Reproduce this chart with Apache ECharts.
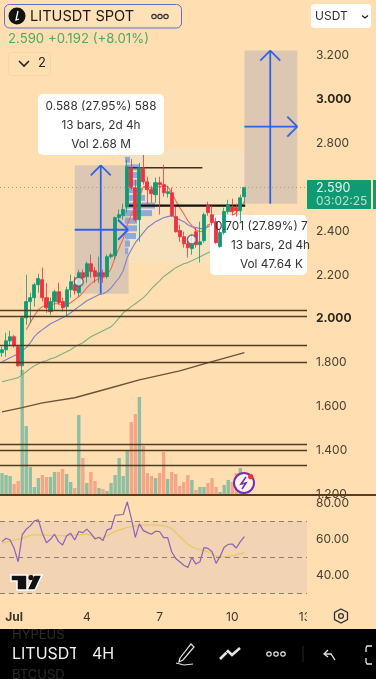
<!DOCTYPE html>
<html>
<head>
<meta charset="utf-8">
<title>LITUSDT SPOT</title>
<script src="https://cdn.jsdelivr.net/npm/echarts@6/dist/echarts.min.js"></script>
<style>
  html, body { margin: 0; padding: 0; background: #ffdfb2; }
  #chart { width: 376px; height: 679px; }
</style>
</head>
<body>
<div id="chart"></div>
<script>
const tickLabels = { 3: 'Jul', 21: '4', 39: '7', 57: '10', 75: '13' }
const categories = Array.from({ length: 76 }, (_, i) => tickLabels[i] || '')

const opens = [1.836,1.849,1.890,1.909,1.863,1.776,1.995,2.069,2.087,2.146,2.169,2.087,2.023,2.069,2.114,2.069,2.046,2.123,2.146,2.110,2.201,2.183,2.242,2.210,2.183,2.201,2.183,2.274,2.279,2.452,2.461,2.502,2.680,2.589,2.443,2.680,2.616,2.580,2.557,2.612,2.603,2.562,2.566,2.457,2.393,2.365,2.333,2.311,2.388,2.329,2.347,2.507,2.466,2.434,2.320,2.384,2.480,2.502,2.498,2.484,2.548]
const closes = [1.849,1.890,1.909,1.868,1.776,1.995,2.069,2.087,2.146,2.174,2.087,2.041,2.069,2.114,2.064,2.041,2.123,2.160,2.119,2.201,2.178,2.242,2.206,2.183,2.201,2.183,2.274,2.283,2.452,2.466,2.489,2.685,2.589,2.443,2.680,2.616,2.580,2.562,2.612,2.603,2.566,2.571,2.461,2.388,2.365,2.333,2.315,2.329,2.329,2.342,2.466,2.475,2.429,2.338,2.384,2.480,2.511,2.480,2.484,2.543,2.590]
const lows = [1.817,1.817,1.872,1.859,1.772,1.735,1.964,1.973,2.046,2.110,2.069,2.018,2.009,2.032,2.055,2.023,2.000,2.087,2.101,2.091,2.164,2.155,2.178,2.155,2.155,2.155,2.174,2.265,2.260,2.434,2.443,2.475,2.580,2.434,2.342,2.603,2.511,2.521,2.521,2.466,2.548,2.543,2.457,2.384,2.342,2.315,2.270,2.283,2.315,2.247,2.338,2.461,2.416,2.333,2.315,2.375,2.470,2.461,2.457,2.434,2.516]
const highs = [1.863,1.927,1.936,1.918,1.872,2.000,2.192,2.110,2.155,2.196,2.224,2.155,2.087,2.123,2.155,2.087,2.137,2.192,2.183,2.215,2.215,2.251,2.283,2.228,2.274,2.215,2.283,2.292,2.457,2.489,2.516,2.717,2.720,2.625,2.703,2.763,2.639,2.598,2.635,2.639,2.694,2.598,2.589,2.502,2.420,2.388,2.361,2.375,2.407,2.434,2.475,2.525,2.507,2.452,2.397,2.498,2.534,2.539,2.516,2.557,2.594]

const volumes = [22,20,19,11,14,125,69,28,8,17,20,18,18,23,23,26,21,13,7,80,37,12,23,14,7,6,4,12,20,37,19,45,73,81,98,49,22,19,17,22,43,16,23,21,9,13,20,15,5,8,8,12,17,8,3,10,15,13,22,27,15]

const maFast = [null,null,null,null,null,null,1.941,1.973,2.005,2.032,2.046,2.055,2.055,2.059,2.059,2.050,2.055,2.064,2.078,2.091,2.110,2.132,2.151,2.164,2.174,2.178,2.192,2.219,2.270,2.315,2.356,2.420,2.466,2.498,2.543,2.594,2.594,2.585,2.589,2.594,2.598,2.594,2.566,2.530,2.498,2.470,2.438,2.416,2.397,2.388,2.393,2.420,2.425,2.411,2.407,2.420,2.447,2.461,2.475,2.498,2.525]
const maMid = [1.795,1.804,1.813,1.822,1.831,1.845,1.859,1.881,1.909,1.927,1.941,1.954,1.968,1.977,1.986,1.995,2.005,2.018,2.032,2.046,2.059,2.073,2.082,2.091,2.101,2.105,2.114,2.132,2.155,2.178,2.210,2.270,2.306,2.338,2.361,2.384,2.407,2.420,2.434,2.443,2.452,2.457,2.461,2.452,2.443,2.434,2.420,2.411,2.407,2.402,2.402,2.411,2.420,2.429]
const maSlow = [1.703,1.708,1.712,1.717,1.722,1.735,1.749,1.763,1.776,1.785,1.795,1.799,1.808,1.813,1.822,1.831,1.840,1.849,1.863,1.872,1.881,1.895,1.909,1.918,1.927,1.936,1.945,1.954,1.973,1.995,2.018,2.032,2.046,2.059,2.073,2.087,2.105,2.128,2.146,2.164,2.183,2.196,2.210,2.224,2.233,2.242,2.247,2.256,2.265,2.274,2.283,2.292,2.301]
const ma200 = [1.566,null,null,null,null,1.585,null,null,null,null,1.607,null,null,null,null,null,null,null,1.630,null,null,null,null,null,null,null,null,1.676,null,null,null,null,null,null,1.712,null,null,null,null,null,null,null,null,null,1.753,null,null,null,null,null,1.785,null,null,null,null,null,null,null,null,null,1.836]

const rsi = [58.7,60.6,59.6,55.0,47.6,62.4,65.6,67.4,70.2,70.7,63.3,58.1,60.0,62.8,58.7,56.9,61.9,63.3,59.6,64.3,63.7,65.6,63.3,60.2,61.1,59.3,65.2,65.9,73.3,73.5,73.7,80.6,71.7,61.1,68.5,64.8,63.7,62.8,64.4,64.3,60.9,60.9,53.1,49.4,47.6,45.7,44.4,50.0,46.3,47.6,55.4,55.0,53.1,46.7,50.7,55.6,57.2,57.4,55.2,58.7,61.5]
const rsiMa = [57.8,null,null,null,null,60.6,null,null,62.4,null,null,null,null,null,null,null,62.0,null,null,null,null,62.8,null,null,60.6,null,null,null,64.3,null,null,null,null,67.4,null,null,null,68.0,null,null,null,67.0,null,null,61.5,null,null,55.9,null,null,null,53.1,null,null,50.4,null,null,50.9,null,null,52.6]

const levels = [2.029, 1.999, 1.868, 1.786, 1.420, 1.394, 1.325]
const lastPrice = 2.590
const profile = [5,15,15,15,17,20,30,27,12,12,11,5,3]
const profileRows = profile.map((_, i) => String(i))

// [from bar, to bar, top price, bottom price]
const lightBox = [[30.6, 60.2, 2.767, 2.247]]
const longBoxes = [[18, 31.35, 2.691, 2.105], [60, 73.1, 3.215, 2.516]]
// [from bar, to bar, price]
const trendLines = [[30.8, 49.6, 2.680], [30.8, 60.2, 2.507]]
// [from bar, from price, to bar, to price]
const arrows = [
  [24.44, 2.105, 24.44, 2.691],
  [18, 2.397, 31.2, 2.397],
  [66.4, 2.516, 66.4, 3.215],
  [60, 2.868, 73.1, 2.868]
]
const markers = [[19, 2.160], [47, 2.352]]

const bg = '#ffdfb2'
const upColor = '#0f9a74'
const downColor = '#f0303f'
const blue = '#2f62e6'
const font = 'Inter, "Noto Sans", sans-serif'

function boxRender(fill) {
  return function (params, api) {
    const a = api.coord([api.value(0), api.value(2)])
    const b = api.coord([api.value(1), api.value(3)])
    return { type: 'rect', shape: { x: a[0], y: a[1], width: b[0] - a[0], height: b[1] - a[1] }, style: { fill: fill } }
  }
}

function arrowRender(params, api) {
  const a = api.coord([api.value(0), api.value(1)])
  const b = api.coord([api.value(2), api.value(3)])
  const len = Math.hypot(b[0] - a[0], b[1] - a[1])
  const ux = (b[0] - a[0]) / len, uy = (b[1] - a[1]) / len
  const head = 10
  const line = (p, q) => ({ type: 'line', shape: { x1: p[0], y1: p[1], x2: q[0], y2: q[1] }, style: { stroke: blue, lineWidth: 1.8 } })
  return {
    type: 'group',
    children: [
      line(a, b),
      line(b, [b[0] - ux * head - uy * head, b[1] - uy * head + ux * head]),
      line(b, [b[0] - ux * head + uy * head, b[1] - uy * head - ux * head])
    ]
  }
}

function trendRender(params, api) {
  const a = api.coord([api.value(0), api.value(2)])
  const b = api.coord([api.value(1), api.value(2)])
  const thick = params.dataIndex === 1
  return { type: 'line', shape: { x1: a[0], y1: a[1], x2: b[0], y2: b[1] }, style: { stroke: thick ? '#15100a' : '#3d2f1c', lineWidth: thick ? 2.4 : 1.3 } }
}

function txt(text, x, y, size, fill, align, weight, z) {
  return {
    type: 'text', x: x, y: y, z: z || 20, silent: true,
    style: { text: text, fill: fill, align: align || 'left', verticalAlign: 'middle', font: (weight || 'normal') + ' ' + size + 'px ' + font }
  }
}
function rect(x, y, w, h, fill, r, stroke, z) {
  return {
    type: 'rect', z: z == null ? 20 : z, silent: true,
    shape: { x: x, y: y, width: w, height: h, r: r || 0 },
    style: { fill: fill, stroke: stroke || null, lineWidth: stroke ? 1 : 0 }
  }
}
function poly(points, stroke, width, z) {
  return { type: 'polyline', z: z || 20, silent: true, shape: { points: points }, style: { stroke: stroke, lineWidth: width, fill: null } }
}
function dot(x, y, r, fill, stroke, width, z) {
  return { type: 'circle', z: z || 20, silent: true, shape: { cx: x, cy: y, r: r }, style: { fill: fill, stroke: stroke || null, lineWidth: width || 0 } }
}

const graphics = [
  // header
  rect(4.5, 4.5, 177, 23.5, '#ffe1b8', 5, '#5b74c9'),
  dot(17, 16, 8.5, '#111'),
  poly([[18, 11], [16, 20], [19, 19]], '#fff', 1.3),
  txt('LITUSDT SPOT', 30, 16.5, 14.6, '#1f1a14'),
  dot(154, 16.5, 2.2, null, '#333', 1.2), dot(160, 16.5, 2.2, null, '#333', 1.2), dot(166, 16.5, 2.2, null, '#333', 1.2),
  rect(311, 4, 60, 24, '#ffffff', 4),
  txt('USDT', 315, 16.5, 12, '#333'),
  poly([[362, 15.5], [365, 18], [368, 15.5]], '#222', 1.3),
  txt('2.590', 8, 39, 13.2, '#4ea868'),
  txt('+0.192 (+8.01%)', 48, 39, 13.2, '#4ea868'),
  rect(8.5, 52.5, 42, 23, '#ffdfb2', 3, '#f6d4a8'),
  poly([[19, 61], [24, 66], [29, 61]], '#222', 1.6),
  txt('2', 42, 63.5, 13, '#222', 'center'),

  // measure label 1
  rect(38, 94, 126, 61, '#ffffff', 5, null, 20),
  txt('0.588 (27.95%) 588', 101, 106.5, 11.8, '#333', 'center'),
  txt('13 bars, 2d 4h', 101, 125.5, 11.8, '#333', 'center'),
  txt('Vol 2.68 M', 101, 144.5, 11.8, '#333', 'center'),

  // measure label 2, candles stay above it
  rect(210, 215, 97, 60, '#ffffff', 5, null, 2.5),
  txt('0.701 (27.89%) 7', 215, 226.5, 11.8, '#333'),
  txt('13 bars, 2d 4h', 231, 245.5, 11.8, '#333'),
  txt('Vol 47.64 K', 240, 264.5, 11.8, '#333'),

  // last price tag
  rect(307, 180, 64, 29, upColor, 1),
  rect(373, 180, 3, 29, upColor),
  txt('2.590', 316, 188.5, 12.5, '#e8f6ee'),
  txt('03:02:25', 316, 201, 12, '#b5e2cb'),

  // volume alert icon
  dot(244, 483, 10, '#fff5e8', '#7a2cb8', 2),
  poly([[246, 477], [241, 484], [246, 483], [242, 489]], '#7a2cb8', 1.6),
  dot(250.7, 476.7, 2.6, '#e9303c'),

  // pane divider
  rect(0, 494, 376, 2, '#5a3f1e'),

  // tradingview logo
  {
    type: 'polygon', z: 20, silent: true,
    shape: { points: [[11, 575], [27, 575], [27, 590], [17, 590], [17, 581], [11, 581]] },
    style: { fill: '#111', stroke: '#fff', lineWidth: 1.5 }
  },
  {
    type: 'polygon', z: 20, silent: true,
    shape: { points: [[34, 575], [42, 575], [35, 590], [27, 590]] },
    style: { fill: '#111', stroke: '#fff', lineWidth: 1.5 }
  },
  dot(31, 577.5, 2.6, '#111'),

  // clip the last date label, settings icon
  rect(307, 606, 24, 20, bg, 0, null, 30),
  { type: 'polygon', z: 31, silent: true, shape: { points: [[341, 609], [347.5, 612.5], [347.5, 619.5], [341, 623], [334.5, 619.5], [334.5, 612.5]] }, style: { fill: null, stroke: '#333', lineWidth: 1.3 } },
  dot(341, 616, 2.4, null, '#333', 1.3, 31),

  // bottom toolbar
  rect(0, 629, 376, 50, '#000000', 0, null, 30),
  txt('HYPEUS', 12, 635, 13, '#2b2b2b', 'left', 'normal', 31),
  txt('LITUSDT', 12, 654.5, 16, '#f0f0f0', 'left', 'normal', 31),
  txt('BTCUSD', 12, 675, 13, '#2b2b2b', 'left', 'normal', 31),
  rect(76, 629, 8, 50, '#000000', 0, null, 32),
  txt('4H', 92, 654.5, 16, '#f0f0f0', 'left', 'normal', 33),
  poly([[180, 658], [191, 644], [194, 647], [183, 660], [179, 662], [180, 658]], '#e4e4e4', 1.2, 33),
  poly([[176, 663], [184, 665], [193, 664]], '#e4e4e4', 1.2, 33),
  poly([[220, 659], [228, 651], [232, 655], [240, 648]], '#e4e4e4', 2.6, 33),
  poly([[220, 654], [224, 650], [232, 658], [240, 651]], '#000', 0.7, 33),
  dot(269, 654, 2.2, null, '#e4e4e4', 1.2, 33), dot(276, 654, 2.2, null, '#e4e4e4', 1.2, 33), dot(283, 654, 2.2, null, '#e4e4e4', 1.2, 33),
  poly([[303, 646], [303, 662]], '#262626', 1, 33),
  poly([[328, 650], [324, 654], [328, 657]], '#e4e4e4', 1.3, 33),
  poly([[324, 654], [331, 654], [335, 660]], '#e4e4e4', 1.3, 33),
  poly([[372, 646], [367, 646], [366, 648], [366, 652]], '#e4e4e4', 1.3, 33),
  poly([[366, 658], [366, 662], [367, 664], [372, 664]], '#e4e4e4', 1.3, 33)
]

const option = {
  animation: false,
  backgroundColor: bg,
  textStyle: { fontFamily: font },
  grid: [
    { left: -1, width: 308, top: 10, height: 482 },
    { left: -1, width: 308, top: 370, height: 125 },
    { left: -1, width: 308, top: 485, height: 108.6 },
    { left: 125, width: 60, top: 156, height: 99 }
  ],
  xAxis: [
    { type: 'category', gridIndex: 0, data: categories, show: false },
    { type: 'value', gridIndex: 0, min: -0.5, max: 75.5, show: false },
    { type: 'category', gridIndex: 1, data: categories, show: false },
    {
      type: 'category', gridIndex: 2, data: categories,
      axisLine: { show: false }, axisTick: { show: false },
      axisLabel: {
        margin: 18, interval: (i) => categories[i] !== '', color: '#3f352a', fontSize: 12, fontFamily: font,
        formatter: (v) => v === 'Jul' ? '{b|Jul}' : v,
        rich: { b: { fontWeight: 'bold', fontSize: 12, color: '#3f352a', fontFamily: font } }
      }
    },
    { type: 'value', gridIndex: 3, min: 0, max: 60, show: false }
  ],
  yAxis: [
    {
      type: 'value', gridIndex: 0, position: 'right', min: 1.2, max: 3.4, interval: 0.2, splitLine: { show: false },
      axisLine: { show: false }, axisTick: { show: false },
      axisLabel: {
        margin: 9, color: '#4a4033', fontSize: 12, fontFamily: font, padding: [4, 0, 0, 0],
        formatter: (v) => {
          if (v > 3.3) return ''
          const s = v.toFixed(3)
          return (s === '2.000' || s === '3.000') ? '{b|' + s + '}' : s
        },
        rich: { b: { fontWeight: 'bold', fontSize: 12, color: '#2f281f', fontFamily: font } }
      }
    },
    { type: 'value', gridIndex: 1, min: 0, max: 125, show: false },
    {
      type: 'value', gridIndex: 2, position: 'right', min: 30, max: 90, interval: 10, splitLine: { show: false },
      axisLine: { show: false }, axisTick: { show: false },
      axisLabel: {
        margin: 9, color: '#4a4033', fontSize: 12, fontFamily: font, padding: [2, 0, 0, 0],
        formatter: (v) => (v === 40 || v === 60 || v === 80) ? v.toFixed(2) : ''
      }
    },
    { type: 'category', gridIndex: 3, data: profileRows, inverse: true, show: false }
  ],
  graphic: graphics,
  series: [
    {
      name: 'Volume', type: 'bar', xAxisIndex: 2, yAxisIndex: 1, barWidth: 3.4, z: 1,
      data: volumes.map((v, i) => ({
        value: v,
        itemStyle: { color: closes[i] >= opens[i] ? '#8fbea2' : '#f6a688' }
      }))
    },
    {
      name: 'Session', type: 'custom', xAxisIndex: 1, yAxisIndex: 0, z: 1, silent: true,
      renderItem: boxRender('#f7e2bd'), data: lightBox
    },
    {
      name: 'Long', type: 'custom', xAxisIndex: 1, yAxisIndex: 0, z: 1.2, silent: true,
      renderItem: boxRender('#dcc8b2'), data: longBoxes
    },
    {
      name: 'Profile', type: 'bar', xAxisIndex: 4, yAxisIndex: 3, barWidth: 6, z: 1.4, silent: true,
      itemStyle: { color: '#8fa9da' }, data: profile
    },
    { name: 'MA 200', type: 'line', xAxisIndex: 0, yAxisIndex: 0, z: 1.6, data: ma200, connectNulls: true, showSymbol: false, lineStyle: { color: '#6b5238', width: 1.4 } },
    { name: 'MA slow', type: 'line', xAxisIndex: 0, yAxisIndex: 0, z: 1.6, data: maSlow, showSymbol: false, lineStyle: { color: '#82ad7e', width: 1.1 } },
    { name: 'MA mid', type: 'line', xAxisIndex: 0, yAxisIndex: 0, z: 1.6, data: maMid, showSymbol: false, lineStyle: { color: '#7d7fd0', width: 1.1 } },
    { name: 'MA fast', type: 'line', xAxisIndex: 0, yAxisIndex: 0, z: 1.6, data: maFast, showSymbol: false, lineStyle: { color: '#ef6a5a', width: 1.1 } },
    {
      name: 'LITUSDT', type: 'candlestick', xAxisIndex: 0, yAxisIndex: 0, z: 4, barWidth: 3.6,
      itemStyle: { color: upColor, color0: downColor, borderColor: upColor, borderColor0: downColor, borderWidth: 0.8 },
      data: opens.map((o, i) => [o, closes[i], lows[i], highs[i]]),
      markLine: {
        silent: true, symbol: 'none', label: { show: false },
        lineStyle: { color: '#4f3c24', width: 1.4, type: 'solid' },
        data: levels.map((v) => ({ yAxis: v })).concat([
          { yAxis: lastPrice, lineStyle: { color: '#a39a84', width: 1, type: [1, 3] } }
        ])
      }
    },
    {
      name: 'Trend', type: 'custom', xAxisIndex: 1, yAxisIndex: 0, z: 3, silent: true,
      renderItem: trendRender, data: trendLines
    },
    {
      name: 'Arrows', type: 'custom', xAxisIndex: 1, yAxisIndex: 0, z: 6, silent: true,
      renderItem: arrowRender, data: arrows
    },
    {
      name: 'Marks', type: 'scatter', xAxisIndex: 0, yAxisIndex: 0, z: 7, symbolSize: 9, silent: true,
      itemStyle: { color: 'rgba(255,240,225,0.95)', borderColor: '#4a5b85', borderWidth: 1.5 },
      data: markers
    },
    {
      name: 'RSI MA', type: 'line', xAxisIndex: 3, yAxisIndex: 2, z: 3, data: rsiMa, connectNulls: true, smooth: true,
      showSymbol: false, lineStyle: { color: '#e8c964', width: 1.3 }
    },
    {
      name: 'RSI', type: 'line', xAxisIndex: 3, yAxisIndex: 2, z: 4, data: rsi, showSymbol: false,
      lineStyle: { color: '#8a62b8', width: 1.2 },
      markArea: {
        silent: true, itemStyle: { color: '#f2d3b3' },
        data: [[{ yAxis: 70 }, { yAxis: 30 }]]
      },
      markLine: {
        silent: true, symbol: 'none', label: { show: false },
        lineStyle: { color: '#8d7f70', width: 1, type: [5, 4] },
        data: [{ yAxis: 70 }, { yAxis: 50 }, { yAxis: 30 }]
      }
    }
  ]
}

const chart = echarts.init(document.getElementById('chart'))
chart.setOption(option)
</script>
</body>
</html>
